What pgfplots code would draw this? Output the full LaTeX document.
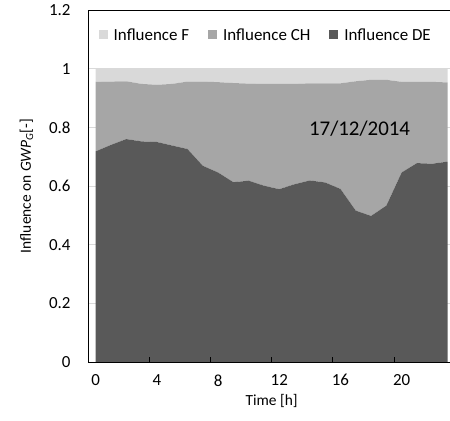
\documentclass[border=0pt]{standalone}
\usepackage{fontspec}
\setmainfont{Carlito}
\usepackage{pgfplots}
\pgfplotsset{compat=1.18}
\usepackage{pgfplotstable}
\definecolor{cF}{HTML}{D9D9D9}
\definecolor{cCH}{HTML}{A6A6A6}
\definecolor{cDE}{HTML}{595959}
\definecolor{gridc}{HTML}{D9D9D9}
\pgfplotstableread{
h DE CH F
0 0.718 0.237 0.045
1 0.740 0.216 0.044
2 0.760 0.197 0.043
3 0.752 0.196 0.052
4 0.750 0.195 0.055
5 0.738 0.210 0.052
6 0.726 0.230 0.044
7 0.669 0.287 0.044
8 0.646 0.308 0.046
9 0.613 0.338 0.049
10 0.618 0.331 0.051
11 0.601 0.347 0.052
12 0.589 0.359 0.052
13 0.606 0.342 0.052
14 0.619 0.331 0.050
15 0.612 0.338 0.050
16 0.590 0.360 0.050
17 0.516 0.441 0.043
18 0.498 0.464 0.038
19 0.533 0.429 0.038
20 0.646 0.309 0.045
21 0.678 0.277 0.045
22 0.676 0.279 0.045
23 0.683 0.270 0.047
}\datatable
\pgfplotsset{base/.style={at={(0,0)}, anchor=south west, scale only axis,
  width=367.2bp, height=352bp,
  xmin=-0.5, xmax=23.5, ymin=0, ymax=1.2}}
\begin{document}
\begin{tikzpicture}
\path[use as bounding box] (-88bp,-59bp) rectangle (362bp,362bp);
\begin{axis}[base,
  stack plots=y,
  axis line style={draw=none},
  xtick={0,4,8,12,16,20}, xticklabels={0,4,8,12,16,20},
  ytick={0,0.2,0.4,0.6,0.8,1,1.2}, yticklabels={0,0.2,0.4,0.6,0.8,1,1.2},
  major tick length=0,
  ymajorgrids, grid style={gridc, line width=0.8bp},
  tick label style={font=\fontsize{17}{20}\selectfont, black},
  xticklabel style={yshift=-9bp},
  yticklabel style={xshift=-14bp},
  xlabel={Time [h]}, ylabel={Influence on \textit{GWP}\textsubscript{\textit{G}}[-]},
  label style={font=\fontsize{15.5}{18}\selectfont},
  xlabel style={yshift=-1bp},
  ylabel style={yshift=9bp},
  legend style={at={(0.484,0.929)}, anchor=center, draw=none, fill=none,
    legend columns=3, font=\fontsize{17}{20}\selectfont,
    /tikz/every odd column/.append style={column sep=4bp},
    /tikz/every even column/.append style={column sep=17bp}},
  reverse legend,
  legend image code/.code={\fill[#1] (0bp,-4.5bp) rectangle (9bp,4.5bp);},
]
\addplot[fill=cDE, draw=none] table[x=h,y=DE]{\datatable} \closedcycle;
\addplot[fill=cCH, draw=none] table[x=h,y=CH]{\datatable} \closedcycle;
\addplot[fill=cF, draw=none] table[x=h,y=F]{\datatable} \closedcycle;
\legend{Influence DE, Influence CH, Influence F}
\end{axis}
\begin{axis}[base,
  axis line style={black, line width=0.8bp},
  xtick={3.5,7.5,11.5,15.5,19.5}, xticklabels={},
  ytick=\empty,
  xtick pos=bottom, tick align=inside, major tick length=5bp,
  tick style={black, line width=0.8bp},
]
\node[font=\fontsize{21}{24}\selectfont] at (axis cs:17.25,0.795) {17/12/2014};
\end{axis}
\end{tikzpicture}
\end{document}
